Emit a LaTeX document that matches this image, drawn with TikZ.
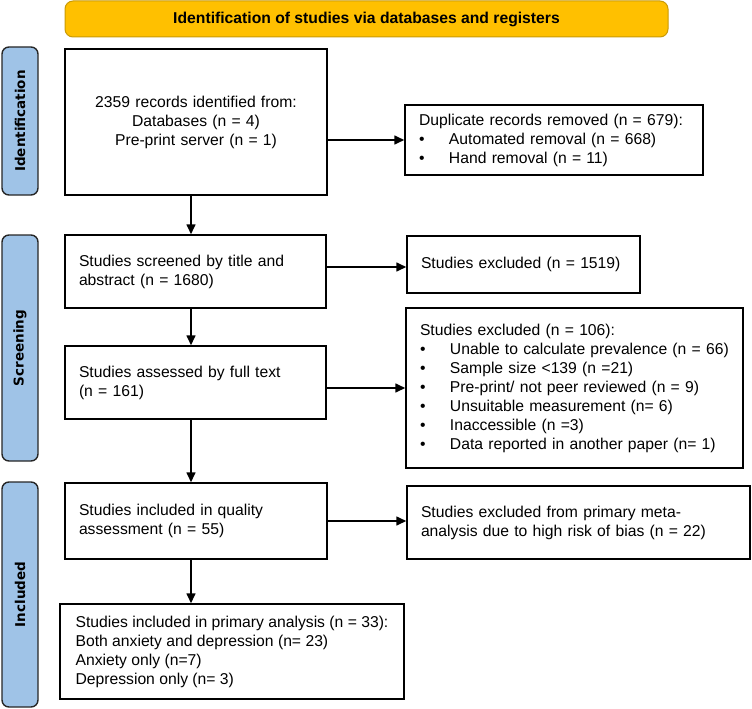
\documentclass[tikz,border=0pt]{standalone}
\usepackage{fontspec}
\setmainfont{Liberation Sans}
\newfontfamily\tabfont{DejaVu Sans}
\usepackage{tikz}
\usetikzlibrary{positioning,arrows.meta}
\definecolor{bannergold}{HTML}{FFC000}
\definecolor{bannerline}{HTML}{C99A06}
\definecolor{tabblue}{HTML}{9FC3E7}
\definecolor{tabline}{HTML}{262626}
\newcommand{\bul}{\makebox[30pt][l]{\textbullet}}

\begin{document}
\begin{tikzpicture}[x=1pt, y=-1pt,
    box/.style={draw, line width=1.5pt, inner xsep=14pt, inner ysep=2pt, align=left, font=\fontsize{15.7}{19}\selectfont},
    tab/.style={draw=tabline, fill=tabblue, line width=1.4pt, rounded corners=7pt, rotate=90, minimum height=36pt, inner sep=0pt, font=\tabfont\bfseries\fontsize{13.5}{15}\selectfont},
    arr/.style={-{Triangle[length=10pt,width=9pt]}, line width=1.6pt}]

    \useasboundingbox (0,0) rectangle (752,709);

    % banner
    \node[draw=bannerline, fill=bannergold, line width=1pt, rounded corners=8pt, minimum width=603pt, minimum height=36pt, font=\bfseries\fontsize{15.7}{19}\selectfont] (banner) at (366.5,19) {Identification of studies via databases and registers};

    % stage tabs
    \node[tab, minimum width=148pt] (tabid) at (20,121) {Identification};
    \node[tab, minimum width=226pt] (tabscr) at (20,348) {Screening};
    \node[tab, minimum width=225pt] (tabinc) at (20,594.5) {Included};

    % main column
    \node[box, align=center, text width=234pt, minimum height=146pt] (records) at (196,122) {2359 records identified from:\\ Databases (n = 4)\\ Pre-print server (n = 1)};
    \node[box, text width=233pt, minimum height=73pt] (screened) at (195.5,271.5) {Studies screened by title and\\ abstract (n = 1680)};
    \node[box, text width=233pt, minimum height=73pt] (fulltext) at (195.5,382.5) {Studies assessed by full text\\ (n = 161)};
    \node[box, text width=234pt, minimum height=76pt] (quality) at (196,521) {Studies included in quality\\ assessment (n = 55)};
    \node[box, inner xsep=0pt, minimum width=344pt, minimum height=95pt] (primary) at (232,651.5) {Studies included in primary analysis (n = 33):\\ Both anxiety and depression (n= 23)\\ Anxiety only (n=7)\\ Depression only (n= 3)};

    % exclusions
    \node[box, text width=270pt, minimum height=70pt] (dup) at (554,140) {Duplicate records removed (n = 679):\\ \bul Automated removal (n = 668)\\ \bul Hand removal (n = 11)};
    \node[box, text width=205pt, minimum height=57pt] (excl) at (523.5,264.5) {Studies excluded (n = 1519)};
    \node[box, text width=309pt, minimum height=160pt] (exclfull) at (574.5,388) {Studies excluded (n = 106):\\ \bul Unable to calculate prevalence (n = 66)\\ \bul Sample size <139 (n =21)\\ \bul Pre-print/ not peer reviewed (n = 9)\\ \bul Unsuitable measurement (n= 6)\\ \bul Inaccessible (n =3)\\ \bul Data reported in another paper (n= 1)};
    \node[box, text width=315pt, minimum height=73pt] (exclbias) at (578.5,522.5) {Studies excluded from primary meta-\\ analysis due to high risk of bias (n = 22)};

    % arrows
    \coordinate (spine) at (191,0);
    \draw[arr] (records.south -| spine) -- (screened.north -| spine);
    \draw[arr] (screened.south -| spine) -- (fulltext.north -| spine);
    \draw[arr] (fulltext.south -| spine) -- (quality.north -| spine);
    \draw[arr] (quality.south -| spine) -- (primary.north -| spine);
    \draw[arr] (records.east |- dup.west) -- (dup.west);
    \draw[arr] ([yshift=-2.5pt]excl.west -| screened.east) -- ([yshift=-2.5pt]excl.west);
    \draw[arr] (fulltext.east |- exclfull.west) -- (exclfull.west);
    \draw[arr] (quality.east) -- (quality.east -| exclbias.west);
\end{tikzpicture}
\end{document}
